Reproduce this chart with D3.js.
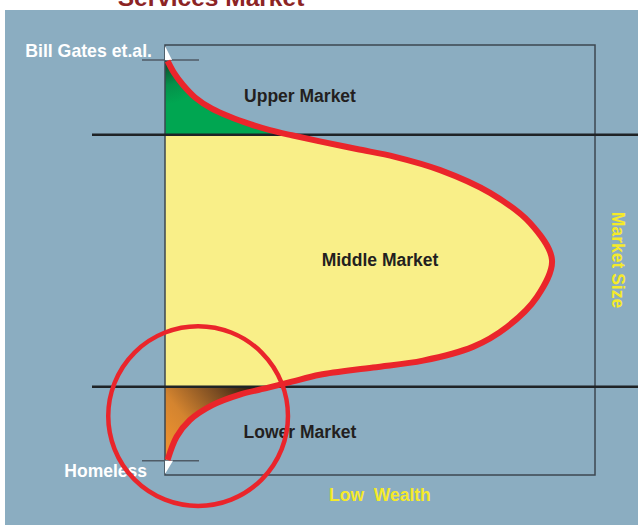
<!DOCTYPE html>
<html>
<head>
<meta charset="utf-8">
<script src="https://cdn.jsdelivr.net/npm/d3@7"></script>
<style>
  body { margin: 0; background: #fff; }
  text { font-family: Arial, "Liberation Sans", sans-serif; font-weight: bold; }
</style>
</head>
<body>
<div id="chart"></div>
<script>
//========================
//   Data
//========================
// curve of market size against wealth, read top (rich) to bottom (poor)
var marketSize  = [0.6, 2.1, 4.2, 7.0, 10.9, 15.1, 19.8, 24.4, 29.5, 36.0, 44.6, 53.5, 64.0, 75.6, 84.9, 90.0, 86.5, 79.5, 71.6, 60.0, 48.4, 36.0, 29.5, 24.0, 17.4, 10.9, 5.8, 2.7, 0.6];
var wealthLevel = [96.3, 93.5, 90.7, 87.8, 85.2, 83.3, 81.6, 80.2, 79.0, 77.6, 75.8, 74.0, 70.9, 65.6, 58.6, 50.0, 41.4, 34.4, 29.8, 26.6, 25.0, 23.3, 21.7, 20.3, 18.7, 16.2, 12.8, 8.9, 3.5];

var bandNames  = ["Upper Market", "Middle Market", "Lower Market"];
var bandTop    = [100, 79.1, 20.5];
var bandBottom = [79.1, 20.5, 0];

var extremeNames  = ["Bill Gates et.al.", "Homeless"];
var extremeWealth = [96.5, 3.3];

var spotlight = [7.7, 13.7, 20.9]; // size, wealth, radius

//========================
//   Setup
//========================
var width = 638, height = 525;

var svg = d3.select("#chart").append("svg")
  .attr("width", width)
  .attr("height", height);

var x = d3.scaleLinear().domain([0, 100]).range([165, 595]);
var y = d3.scaleLinear().domain([0, 100]).range([475, 45]);

var defs = svg.append("defs");

//Gradients for upper and lower bands
var green = defs.append("radialGradient")
  .attr("id", "greenGrad")
  .attr("gradientUnits", "userSpaceOnUse")
  .attr("cx", x(0)).attr("cy", y(96)).attr("r", 42);
green.append("stop").attr("offset", 0).attr("stop-color", "#0d4a2a");
green.append("stop").attr("offset", 0.55).attr("stop-color", "#05904a");
green.append("stop").attr("offset", 1).attr("stop-color", "#00a651");

var brown = defs.append("linearGradient")
  .attr("id", "brownGrad")
  .attr("gradientUnits", "userSpaceOnUse")
  .attr("x1", x(0)).attr("y1", y(4))
  .attr("x2", x(21)).attr("y2", y(21));
brown.append("stop").attr("offset", 0).attr("stop-color", "#f29530");
brown.append("stop").attr("offset", 0.35).attr("stop-color", "#d4842f");
brown.append("stop").attr("offset", 0.7).attr("stop-color", "#7a4c22");
brown.append("stop").attr("offset", 1).attr("stop-color", "#22150a");

var bandFills = ["url(#greenGrad)", "#f9ef88", "url(#brownGrad)"];

bandNames.forEach(function(n, i) {
  defs.append("clipPath").attr("id", "band" + i)
    .append("rect")
    .attr("x", x(0))
    .attr("y", y(bandTop[i]))
    .attr("width", x(100) - x(0))
    .attr("height", y(bandBottom[i]) - y(bandTop[i]));
});

//Background
svg.append("rect")
  .attr("x", 5).attr("y", 10)
  .attr("width", width - 5).attr("height", height - 10)
  .attr("fill", "#8badc1");

//Title (cut off at the top, like the original)
svg.append("text")
  .attr("x", 211).attr("y", 5.5)
  .attr("text-anchor", "middle")
  .attr("font-size", 24.5)
  .attr("fill", "#8c2424")
  .text("Services Market");

//========================
//   Drawing
//========================
var pts = marketSize.map(function(d, i) { return [d, wealthLevel[i]]; });

var curve = d3.line()
  .x(function(d) { return x(d[0]); })
  .y(function(d) { return y(d[1]); })
  .curve(d3.curveCatmullRom.alpha(0.5));

var curvePath = curve(pts);
var areaPath = curvePath + "L" + x(0) + "," + y(pts[pts.length - 1][1]) +
  "L" + x(0) + "," + y(pts[0][1]) + "Z";

//Filled bands
bandNames.forEach(function(n, i) {
  svg.append("path")
    .attr("d", areaPath)
    .attr("fill", bandFills[i])
    .attr("clip-path", "url(#band" + i + ")");
});

//Frame
svg.append("rect")
  .attr("x", x(0)).attr("y", y(100))
  .attr("width", x(100) - x(0)).attr("height", y(0) - y(100))
  .attr("fill", "none")
  .attr("stroke", "#3d4750")
  .attr("stroke-width", 1.5);

//Band dividers
[bandTop[1], bandTop[2]].forEach(function(v) {
  svg.append("line")
    .attr("x1", 92).attr("x2", width)
    .attr("y1", y(v)).attr("y2", y(v))
    .attr("stroke", "#1f2326")
    .attr("stroke-width", 2.5);
});

//Little ticks for the extremes
extremeWealth.forEach(function(v) {
  svg.append("line")
    .attr("x1", x(0) - 23).attr("x2", x(0) + 34)
    .attr("y1", y(v)).attr("y2", y(v))
    .attr("stroke", "#4f5b66")
    .attr("stroke-width", 1.5);
});

//White slivers at the ends of the curve
svg.append("path")
  .attr("d", "M" + x(0) + "," + (y(100) + 1) + "L" + x(0) + "," + y(extremeWealth[0]) +
    "L" + (x(0) + 7) + "," + y(extremeWealth[0]) + "Z")
  .attr("fill", "#fff");
svg.append("path")
  .attr("d", "M" + x(0) + "," + (y(0) - 1) + "L" + x(0) + "," + y(extremeWealth[1]) +
    "L" + (x(0) + 8) + "," + y(extremeWealth[1]) + "Z")
  .attr("fill", "#fff");

//The curve itself
svg.append("path")
  .attr("d", curvePath)
  .attr("fill", "none")
  .attr("stroke", "#ea252b")
  .attr("stroke-width", 6);

//Labels
var labelX = [31.4, 50, 31.4];
var labelY = [86.8, 48.5, 8.6];
bandNames.forEach(function(n, i) {
  svg.append("text")
    .attr("x", x(labelX[i])).attr("y", y(labelY[i]))
    .attr("text-anchor", "middle")
    .attr("font-size", 17.5)
    .attr("fill", "#231f20")
    .text(n);
});

svg.append("text")
  .attr("x", 152).attr("y", 56.5)
  .attr("text-anchor", "end")
  .attr("font-size", 17.7)
  .attr("fill", "#fff")
  .text(extremeNames[0]);
svg.append("text")
  .attr("x", 147).attr("y", 477)
  .attr("text-anchor", "end")
  .attr("font-size", 17.5)
  .attr("fill", "#fff")
  .text(extremeNames[1]);

//Axis titles
svg.append("text")
  .attr("x", 329).attr("y", 501)
  .attr("font-size", 17.5)
  .attr("fill", "#f5ea2a")
  .attr("xml:space", "preserve")
  .style("white-space", "pre")
  .text("Low  Wealth");
svg.append("text")
  .attr("transform", "translate(612," + y(50) + ") rotate(90)")
  .attr("text-anchor", "middle")
  .attr("font-size", 17.5)
  .attr("fill", "#f5ea2a")
  .text("Market Size");

//Spotlight circle
svg.append("circle")
  .attr("cx", x(spotlight[0]))
  .attr("cy", y(spotlight[1]))
  .attr("r", x(spotlight[2]) - x(0))
  .attr("fill", "none")
  .attr("stroke", "#ea252b")
  .attr("stroke-width", 4.5);
</script>
</body>
</html>
